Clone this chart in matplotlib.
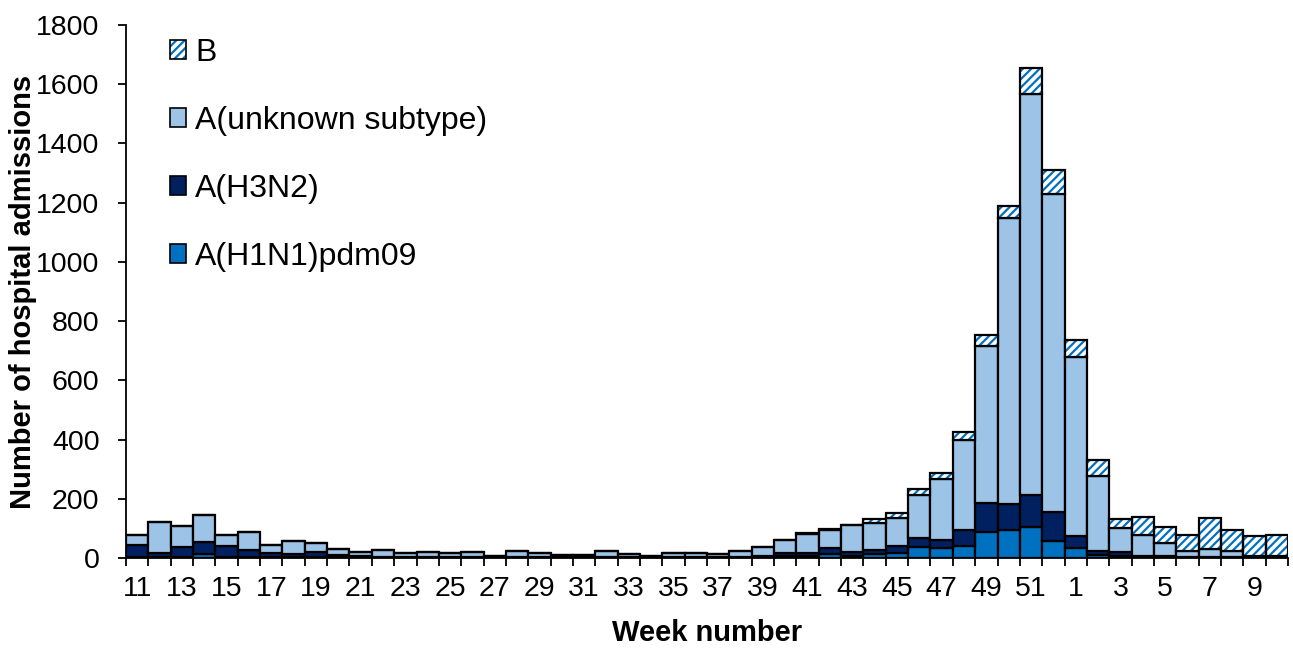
import numpy as np
import matplotlib
matplotlib.use("Agg")
import matplotlib.pyplot as plt
from matplotlib.patches import Patch

plt.rcParams['font.family'] = ['Liberation Sans', 'DejaVu Sans']
plt.rcParams['hatch.linewidth'] = 1.6

weeks = list(range(11, 53)) + list(range(1, 11))

h1n1 = [5, 3, 5, 13, 5, 3, 2, 2, 2, 2, 1, 1, 1, 1, 1, 1, 1, 1, 1, 1, 1, 1, 1, 1, 1, 1, 1, 1,
        3, 6, 7, 14, 8, 14, 18, 37, 35, 40, 88, 94, 104, 59,
        33, 9, 8, 3, 3, 2, 1, 1, 1, 1]
h3n2 = [38, 13, 33, 42, 37, 24, 14, 12, 19, 8, 5, 4, 3, 3, 3, 3, 2, 3, 2, 2, 2, 3, 2, 2, 2, 3, 2, 3,
        4, 12, 9, 21, 12, 12, 22, 29, 25, 56, 99, 88, 108, 95,
        41, 14, 12, 3, 4, 3, 2, 3, 1, 1]
unknown = [35, 105, 69, 90, 36, 60, 27, 44, 29, 20, 15, 23, 12, 16, 12, 16, 4, 18, 13, 7, 8, 20, 10, 5,
           14, 14, 12, 20,
           30, 43, 65, 59, 90, 92, 95, 146, 206, 303, 528, 966, 1354, 1074,
           604, 254, 80, 72, 45, 18, 26, 21, 6, 6]
b = [0] * 30 + [3, 3, 0, 13, 18, 22, 22, 28, 38, 40, 90, 84,
                59, 54, 33, 59, 52, 56, 106, 68, 67, 71]

c_h1 = '#0070C0'
c_h3 = '#002060'
c_unk = '#9DC3E6'
c_b = '#0070C0'
hatch = '////'

fig = plt.figure(figsize=(12.93, 6.51), dpi=100)
ax = fig.add_axes([126/1293, 1-558/651, (1288-126)/1293, (558-25)/651])

x = np.arange(len(weeks))
h1 = np.array(h1n1); h3 = np.array(h3n2); un = np.array(unknown); bb = np.array(b)
lw = 1.6
ax.bar(x, h1, width=1.0, color=c_h1, edgecolor='black', linewidth=lw, zorder=2)
ax.bar(x, h3, width=1.0, bottom=h1, color=c_h3, edgecolor='black', linewidth=lw, zorder=2)
ax.bar(x, un, width=1.0, bottom=h1+h3, color=c_unk, edgecolor='black', linewidth=lw, zorder=2)
ax.bar(x, bb, width=1.0, bottom=h1+h3+un, color='white', edgecolor=c_b, hatch=hatch, linewidth=0, zorder=2)
ax.bar(x, bb, width=1.0, bottom=h1+h3+un, color='none', edgecolor='black', linewidth=lw, zorder=3)

ax.set_xlim(-0.5, len(weeks)-0.5)
ax.set_ylim(0, 1800)
ax.set_yticks(np.arange(0, 1801, 200))
ax.set_xticks(x[::2])
ax.set_xticklabels([str(w) for w in weeks[::2]])
ax.set_xticks(np.arange(-0.5, len(weeks)), minor=True)
ax.tick_params(axis='x', which='major', length=0, labelsize=20.5, pad=13)
ax.tick_params(axis='x', which='minor', length=5.5, width=1.3, direction='out')
ax.tick_params(axis='y', which='major', length=5.5, width=1.3, direction='out', labelsize=20.5, pad=13.5)

for s in ['top', 'right']:
    ax.spines[s].set_visible(False)
for s in ['left', 'bottom']:
    ax.spines[s].set_linewidth(1.3)

ax.set_ylabel('Number of hospital admissions', fontsize=21, fontweight='bold')
ax.yaxis.set_label_coords(-0.077, 0.5)
ax.set_xlabel('Week number', fontsize=21, fontweight='bold')
ax.xaxis.set_label_coords(0.5, -0.115)

hb = (Patch(facecolor='white', edgecolor=c_b, hatch=hatch, linewidth=0),
      Patch(facecolor='none', edgecolor='black', linewidth=1.2))
handles = [hb,
           Patch(facecolor=c_unk, edgecolor='black', linewidth=1.2),
           Patch(facecolor=c_h3, edgecolor='black', linewidth=1.2),
           Patch(facecolor=c_h1, edgecolor='black', linewidth=1.2)]
labels = ['B', 'A(unknown subtype)', 'A(H3N2)', 'A(H1N1)pdm09']
leg = ax.legend(handles, labels, loc='upper left', bbox_to_anchor=(0.027, 1.0),
                frameon=False, fontsize=23, handlelength=0.5, handleheight=0.5,
                handletextpad=0.28, labelspacing=1.19, borderaxespad=0)

fig.savefig('out.png', dpi=100)
